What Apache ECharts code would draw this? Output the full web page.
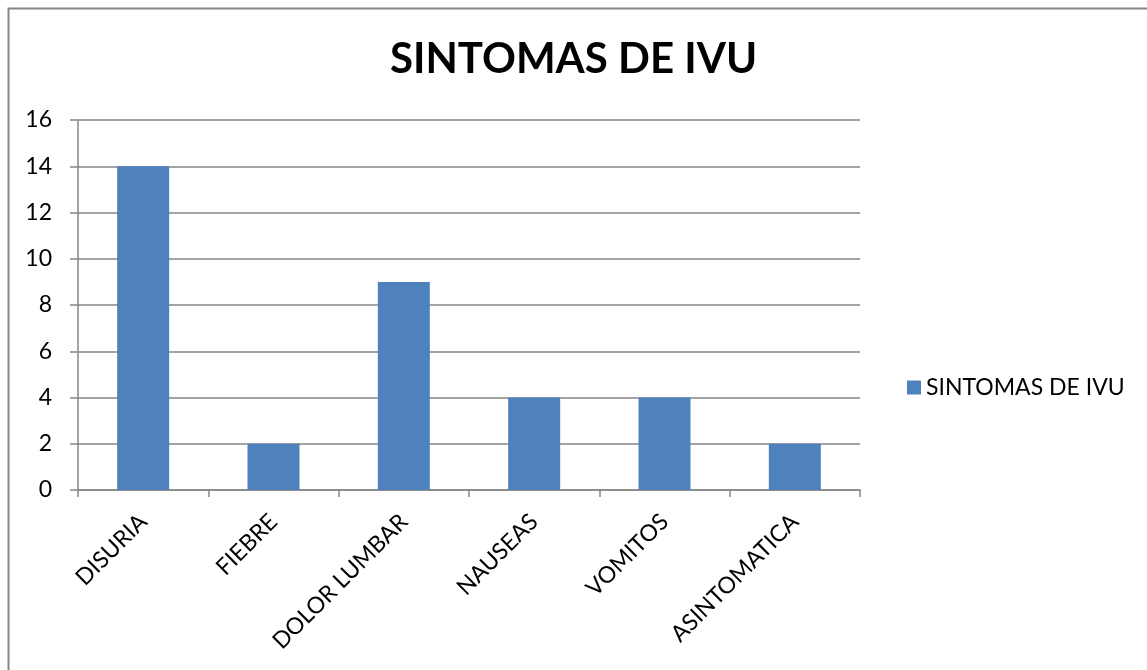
<!DOCTYPE html>
<html>
<head>
<meta charset="utf-8">
<script src="https://cdn.jsdelivr.net/npm/echarts@6/dist/echarts.min.js"></script>
<style>
html, body { margin: 0; padding: 0; background: #fff; }
#main { width: 1147px; height: 670px; }
</style>
</head>
<body>
<div id="main"></div>
<script>
var categories = ['DISURIA', 'FIEBRE', 'DOLOR LUMBAR', 'NAUSEAS', 'VOMITOS', 'ASINTOMATICA'];
var values = [14, 2, 9, 4, 4, 2];
var seriesName = 'SINTOMAS DE IVU';

var chart = echarts.init(document.getElementById('main'));
var font = 'Lato, "Open Sans", sans-serif';

var option = {
    backgroundColor: '#fff',
    animation: false,
    graphic: [{
        type: 'polyline',
        shape: { points: [[8.5, 670], [8.5, 8.5], [1147, 8.5]] },
        style: { stroke: '#868686', lineWidth: 2, fill: null },
        silent: true
    }],
    title: {
        text: 'SINTOMAS DE IVU',
        left: 'center',
        top: 33,
        textStyle: {
            fontFamily: font,
            fontWeight: 'bold',
            fontSize: 42,
            color: '#000'
        }
    },
    legend: {
        data: [seriesName],
        left: 902,
        top: 371,
        icon: 'rect',
        itemWidth: 14,
        itemHeight: 14,
        itemGap: 8,
        textStyle: { fontFamily: font, fontSize: 23, color: '#000' }
    },
    grid: {
        left: 78,
        right: 287,
        top: 120,
        bottom: 180
    },
    xAxis: {
        type: 'category',
        data: categories,
        axisLine: { lineStyle: { color: '#868686', width: 1.5 } },
        axisTick: { show: true, length: 7, lineStyle: { color: '#868686', width: 1.5 } },
        axisLabel: {
            rotate: 45,
            margin: 28,
            fontFamily: font,
            fontSize: 23,
            color: '#000',
            interval: 0
        }
    },
    yAxis: {
        type: 'value',
        min: 0,
        max: 16,
        interval: 2,
        axisLine: { show: true, lineStyle: { color: '#868686', width: 1.5 } },
        axisTick: { show: true, length: 8, lineStyle: { color: '#868686', width: 1.5 } },
        splitLine: { lineStyle: { color: '#868686', width: 1.5 } },
        axisLabel: {
            margin: 26,
            fontFamily: font,
            fontSize: 23,
            color: '#000'
        }
    },
    series: [{
        name: seriesName,
        type: 'bar',
        data: values,
        barWidth: 52,
        itemStyle: { color: '#4f81bd' }
    }]
};

chart.setOption(option);
</script>
</body>
</html>
